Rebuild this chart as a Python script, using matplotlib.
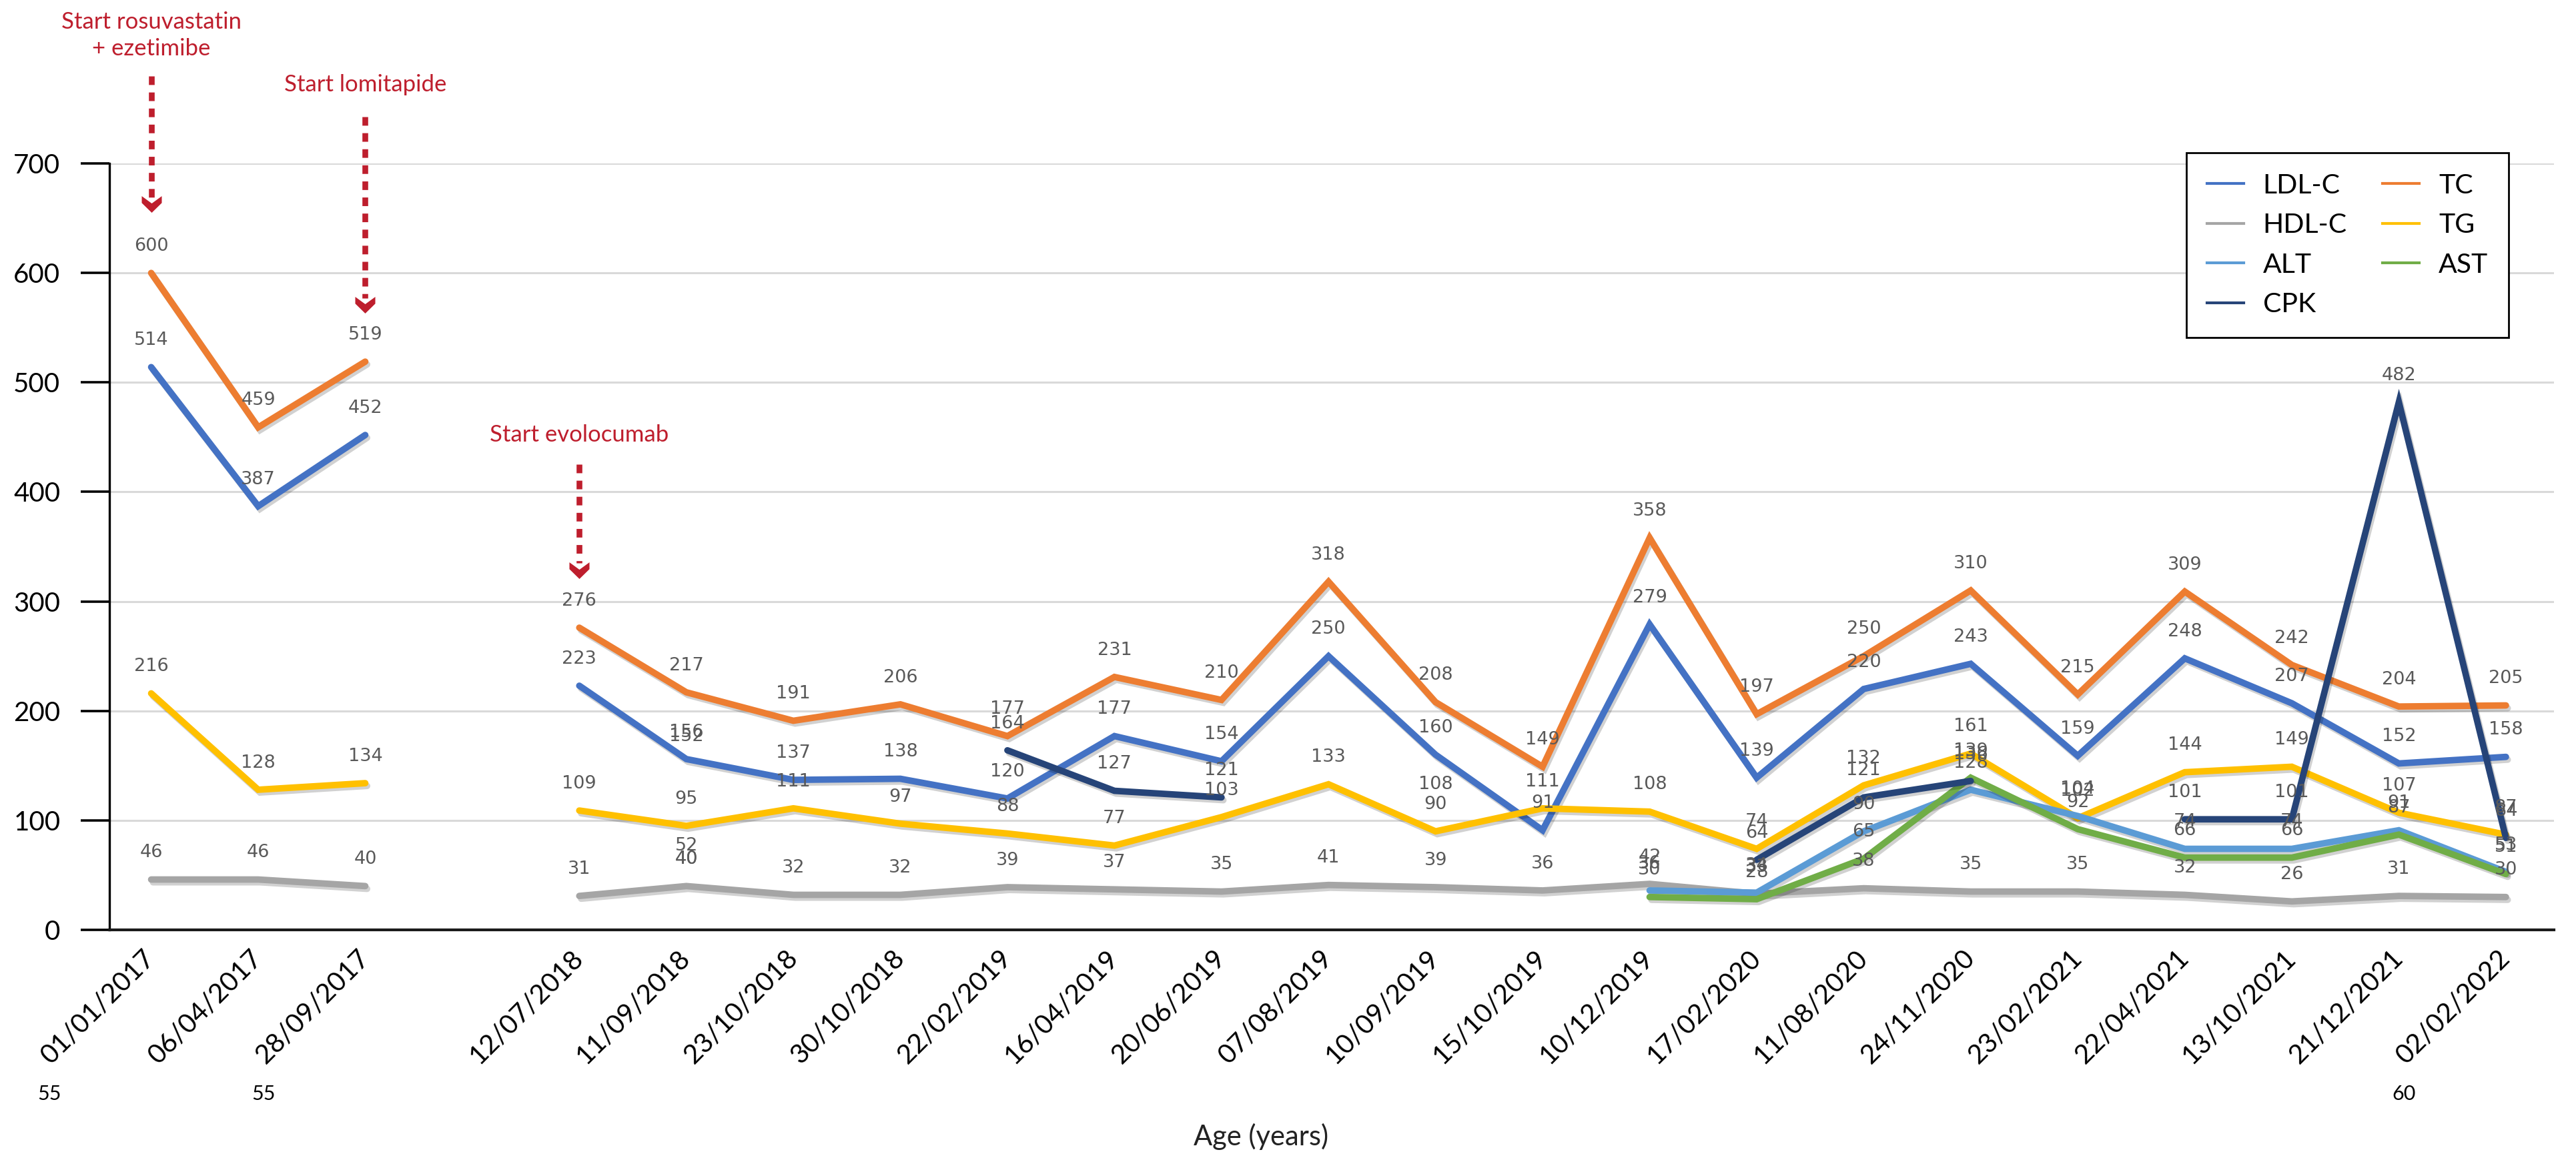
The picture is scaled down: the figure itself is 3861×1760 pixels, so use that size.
import numpy as np
import matplotlib
matplotlib.use("Agg")
import matplotlib.pyplot as plt
import matplotlib.patheffects as pe
from matplotlib.lines import Line2D
from matplotlib.path import Path
from matplotlib.transforms import blended_transform_factory

N = None
dates = ["01/01/2017", "06/04/2017", "28/09/2017", "", "12/07/2018", "11/09/2018",
         "23/10/2018", "30/10/2018", "22/02/2019", "16/04/2019", "20/06/2019",
         "07/08/2019", "10/09/2019", "15/10/2019", "10/12/2019", "17/02/2020",
         "11/08/2020", "24/11/2020", "23/02/2021", "22/04/2021", "13/10/2021",
         "21/12/2021", "02/02/2022"]

ldl = [514, 387, 452, N, 223, 156, 137, 138, 120, 177, 154, 250, 160, 91, 279, 139,
       220, 243, 159, 248, 207, 152, 158]
tc = [600, 459, 519, N, 276, 217, 191, 206, 177, 231, 210, 318, 208, 149, 358, 197,
      250, 310, 215, 309, 242, 204, 205]
hdl = [46, 46, 40, N, 31, 40, 32, 32, 39, 37, 35, 41, 39, 36, 42, 33,
       38, 35, 35, 32, 26, 31, 30]
tg = [216, 128, 134, N, 109, 95, 111, 97, 88, 77, 103, 133, 90, 111, 108, 74,
      132, 161, 102, 144, 149, 107, 87]
alt = [N, N, N, N, N, 52, N, N, N, N, N, N, N, N, 36, 34,
       90, 128, 104, 74, 74, 91, 53]
ast = [N, N, N, N, N, 40, N, N, N, N, N, N, N, N, 30, 28,
       65, 139, 92, 66, 66, 87, 51]
cpk = [N, N, N, N, N, 152, N, N, 164, 127, 121, N, 108, N, N, 64,
       121, 136, N, 101, 101, 482, 84]

series = [("LDL-C", ldl, "#4472C4"), ("TC", tc, "#ED7D31"), ("HDL-C", hdl, "#A5A5A5"),
          ("TG", tg, "#FFC000"), ("ALT", alt, "#5B9BD5"), ("AST", ast, "#70AD47"),
          ("CPK", cpk, "#264478")]
legend_order = ["LDL-C", "HDL-C", "ALT", "CPK", "TC", "TG", "AST"]

age_labels = [(0, "55"), (2, "55"), (22, "60")]
events = [("Start rosuvastatin\n+ ezetimibe", 0, 817, 780, 655),
          ("Start lomitapide", 2, 772, 743, 563),
          ("Start evolocumab", 4, 452, 425, 321)]

RED = "#BE1E2D"
LATO = ["Lato", "DejaVu Sans"]

fig = plt.figure(figsize=(38.61, 17.60), dpi=100)
ax = fig.add_axes([0.04248, 0.20795, 0.9490, 0.6528])

x = np.arange(len(dates))
handles = {}
for name, vals, col in series:
    y = np.array([np.nan if v is None else v for v in vals], dtype=float)
    ax.plot(x, y, color=col, lw=7, solid_capstyle="round", solid_joinstyle="miter",
            zorder=3,
            path_effects=[pe.SimpleLineShadow(offset=(2, -3), shadow_color="black", alpha=0.18),
                          pe.Normal()])
    handles[name] = Line2D([], [], color=col, lw=3)
    for xi, v in zip(x, vals):
        if v is not None:
            ax.annotate(str(v), (xi, v), xytext=(0, 29), textcoords="offset points",
                        ha="center", va="center", fontsize=19.5, color="#595959",
                        family="DejaVu Sans", zorder=5, annotation_clip=False)

ax.set_xlim(-0.39, 22.45)
ax.set_ylim(0, 700)
ax.set_yticks(np.arange(0, 701, 100))
ax.set_xticks(x)
ax.set_xticklabels(dates)
ax.yaxis.grid(True, color="#D9D9D9", lw=2.2)
ax.set_axisbelow(True)
for s in ["top", "right"]:
    ax.spines[s].set_visible(False)
ax.spines["left"].set_linewidth(2.4)
ax.spines["bottom"].set_linewidth(3.0)
ax.spines["bottom"].set_color("#1a1a1a")
ax.tick_params(axis="y", length=31, width=2.6, pad=22, labelsize=29, color="black")
ax.tick_params(axis="x", length=0, pad=26, labelsize=29)
for lab in ax.get_yticklabels():
    lab.set_family(LATO)
for lab in ax.get_xticklabels():
    lab.set_family(LATO)
    lab.set_rotation(45)
    lab.set_ha("right")
    lab.set_va("center")
    lab.set_rotation_mode("anchor")

# age labels
tr = blended_transform_factory(ax.transData, fig.transFigure)
for idx, txt in age_labels:
    ax.text(idx - 0.95, 0.068, txt, transform=tr, ha="center", va="center",
            fontsize=22, family=LATO, color="black")
fig.text(0.4895, 0.032, "Age (years)", ha="center", va="center", fontsize=30,
         family=LATO, color="#222222")

# treatment events
chev = Path([(-1, 0.83), (0, 0.1), (1, 0.83), (1, 0.15), (0, -0.83), (-1, 0.15), (-1, 0.83)],
            [Path.MOVETO] + [Path.LINETO] * 5 + [Path.CLOSEPOLY])
for txt, idx, ty, top, tip in events:
    ax.text(idx, ty, txt, ha="center", va="center", fontsize=25, color=RED,
            family=LATO, linespacing=1.3, clip_on=False)
    ax.plot([idx, idx], [top, tip + 14], color=RED, lw=6.2, dashes=(1.5, 1.3),
            solid_capstyle="butt", dash_capstyle="butt", clip_on=False, zorder=6)
    ax.plot([idx], [tip + 7.6], marker=chev, markersize=21.6, color=RED,
            markeredgewidth=0, clip_on=False, zorder=6)

leg = ax.legend([handles[n] for n in legend_order], legend_order, ncol=2,
                loc="upper left", bbox_to_anchor=(0.8496, 1.014), frameon=True,
                fancybox=False, edgecolor="black", framealpha=1, fontsize=29.5,
                handlelength=1.35, handletextpad=0.7, columnspacing=1.3,
                labelspacing=0.55, borderpad=0.75, borderaxespad=0)
leg.get_frame().set_linewidth(2.0)
for t in leg.get_texts():
    t.set_family(LATO)

fig.savefig("out.png", dpi=100, facecolor="white")
